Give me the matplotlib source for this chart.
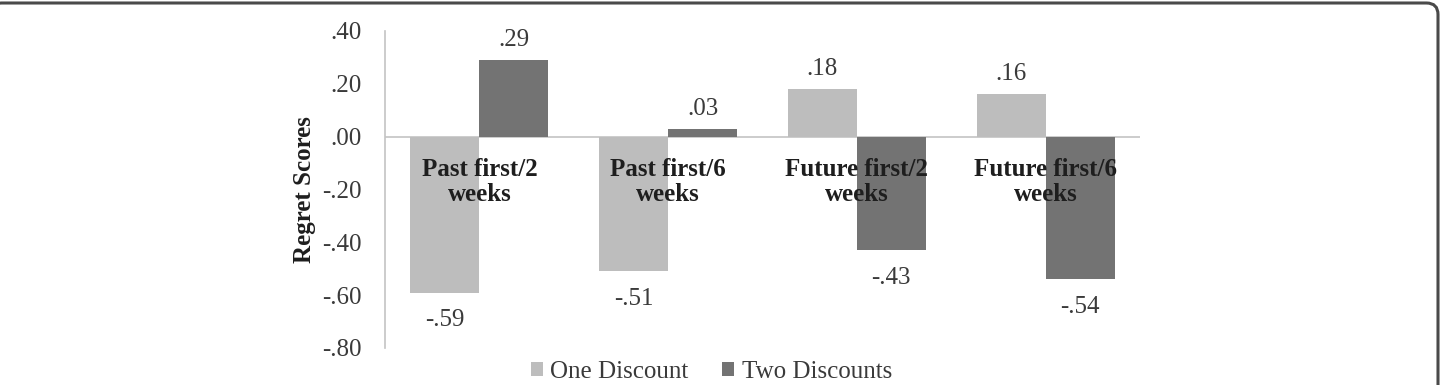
import numpy as np
import matplotlib.pyplot as plt
from matplotlib.patches import FancyBboxPatch

# ──────────────────────────────────────────────
# Data
# ──────────────────────────────────────────────
categories = ["Past first/2\nweeks", "Past first/6\nweeks",
              "Future first/2\nweeks", "Future first/6\nweeks"]
one_discount = [-0.59, -0.51, 0.18, 0.16]
two_discounts = [0.29, 0.03, -0.43, -0.54]
series_names = ["One Discount", "Two Discounts"]
y_ticks = [0.40, 0.20, 0.00, -0.20, -0.40, -0.60, -0.80]

LIGHT = "#bdbdbd"
DARK = "#737373"
AXIS_GRAY = "#c4c4c4"
TEXT = "#3a3a3a"
FS = 18

plt.rcParams["font.family"] = ["Liberation Serif", "DejaVu Serif"]


def fmt(v):
    s = f"{v:.2f}"
    return s.replace("0.", ".", 1)


fig = plt.figure(figsize=(14.44, 3.85), dpi=100)
ax = fig.add_axes([385 / 1444, 1 - 348 / 385, 755 / 1444, 317 / 385])

x = np.arange(len(categories))
w = 0.365
b1 = ax.bar(x - w / 2, one_discount, w, color=LIGHT, label=series_names[0], zorder=2)
b2 = ax.bar(x + w / 2, two_discounts, w, color=DARK, label=series_names[1], zorder=2)

# value labels
for bars, vals in ((b1, one_discount), (b2, two_discounts)):
    for bar, v in zip(bars, vals):
        cx = bar.get_x() + bar.get_width() / 2
        dy = 14.5 if v >= 0 else -20
        ax.annotate(fmt(v), (cx, v), xytext=(0, dy), textcoords="offset points",
                    ha="center", va="center", fontsize=FS, color=TEXT)

# category labels just below the zero line
for xi, lab in zip(x, categories):
    ax.text(xi, -0.172, lab, ha="center", va="center", fontsize=FS,
            fontweight="bold", color="#1e1e1e", linespacing=1.15, zorder=3)

ax.axhline(0, color=AXIS_GRAY, lw=1.2, zorder=1)
ax.set_xlim(-0.5, 3.5)
ax.set_ylim(-0.80, 0.40)
ax.set_yticks(y_ticks)
ax.set_yticklabels([fmt(t) for t in y_ticks], fontsize=FS, color=TEXT)
ax.set_xticks([])
ax.tick_params(axis="y", length=0, pad=16.5)
for side in ("top", "right", "bottom"):
    ax.spines[side].set_visible(False)
ax.spines["left"].set_color(AXIS_GRAY)
ax.spines["left"].set_linewidth(1.2)
ax.set_ylabel("Regret Scores", fontsize=FS, fontweight="bold", color="#1e1e1e")
ax.yaxis.set_label_coords(-0.0914, 0.5)

fig.legend(handles=[b1, b2], labels=series_names, loc="center",
           bbox_to_anchor=(0.4927, 1 - 372 / 385), ncol=2, frameon=False,
           fontsize=FS, handlelength=0.48, handleheight=0.48, handletextpad=0.3,
           columnspacing=1.35, labelcolor=TEXT)

# rounded frame around the figure
frame = FancyBboxPatch((-10 / 1444, -0.1), (1438 + 10) / 1444, 1 - 3 / 385 + 0.1,
                       boxstyle="round,pad=0,rounding_size=0.008",
                       transform=fig.transFigure, fill=False,
                       edgecolor="#4a4a4a", lw=2.2, mutation_aspect=1444 / 385)
fig.patches.append(frame)

fig.savefig("out.png", dpi=100)
